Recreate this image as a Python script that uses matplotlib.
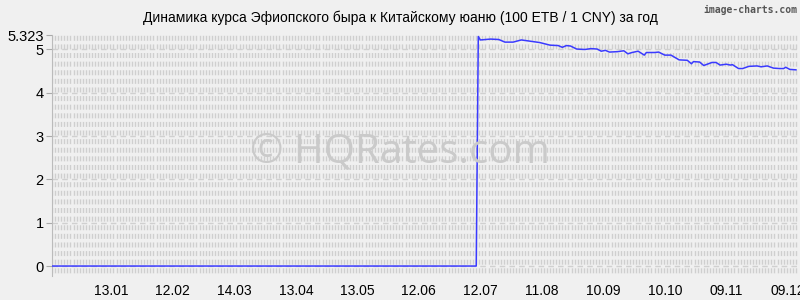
import numpy as np
import pandas as pd
import matplotlib
matplotlib.use("Agg")
import matplotlib.pyplot as plt
import matplotlib.dates as mdates

# 100 ETB in CNY
dates = ["2024-12-15", "2025-07-10", "2025-07-11", "2025-07-12", "2025-07-17",
         "2025-07-21", "2025-07-24", "2025-07-28", "2025-08-01", "2025-08-04",
         "2025-08-10", "2025-08-15", "2025-08-19", "2025-08-21", "2025-08-23",
         "2025-08-25", "2025-08-28", "2025-09-01", "2025-09-04", "2025-09-07",
         "2025-09-09", "2025-09-11", "2025-09-13", "2025-09-17", "2025-09-20",
         "2025-09-22", "2025-09-24", "2025-09-27", "2025-09-30", "2025-10-01",
         "2025-10-05", "2025-10-07", "2025-10-10", "2025-10-13", "2025-10-17",
         "2025-10-21", "2025-10-23", "2025-10-24", "2025-10-27", "2025-10-29",
         "2025-11-02", "2025-11-04", "2025-11-06", "2025-11-09", "2025-11-11",
         "2025-11-12", "2025-11-15", "2025-11-17", "2025-11-20", "2025-11-24",
         "2025-11-26", "2025-11-29", "2025-12-02", "2025-12-05", "2025-12-07",
         "2025-12-08", "2025-12-10", "2025-12-13"]
rates = [0.0, 0.0, 5.30, 5.22, 5.24,
         5.23, 5.17, 5.17, 5.22, 5.20,
         5.16, 5.10, 5.09, 5.05, 5.09,
         5.08, 5.01, 5.00, 5.02, 5.01,
         4.96, 4.98, 4.94, 4.95, 4.97,
         4.90, 4.93, 4.96, 4.87, 4.93,
         4.93, 4.94, 4.87, 4.87, 4.76,
         4.75, 4.67, 4.72, 4.71, 4.63,
         4.70, 4.70, 4.64, 4.66, 4.64,
         4.65, 4.56, 4.56, 4.61, 4.62,
         4.60, 4.62, 4.57, 4.56, 4.56,
         4.59, 4.54, 4.53]

tick_dates = ["2025-01-13", "2025-02-12", "2025-03-14", "2025-04-13", "2025-05-13",
              "2025-06-12", "2025-07-12", "2025-08-11", "2025-09-10", "2025-10-10",
              "2025-11-09", "2025-12-09"]
y_ticks = [0, 1, 2, 3, 4, 5, 5.323]
y_labels = ["0", "1", "2", "3", "4", "5", "5.323"]

x = pd.to_datetime(dates)
xt = pd.to_datetime(tick_dates)
x_min, x_max = pd.Timestamp("2024-12-15"), pd.Timestamp("2025-12-14")
y_min, y_max = -0.23, 5.323

plt.rcParams['font.family'] = ['Liberation Sans', 'DejaVu Sans']
bg = '#f0f0f0'
fig = plt.figure(figsize=(8, 3), dpi=100, facecolor=bg)
ax = fig.add_axes([0.065, 0.08, 0.9325, 0.8017], facecolor=bg)

# dense striped grid, like the image-charts background
grid_x = pd.date_range(x_min, x_max, freq='36h')
ax.vlines(grid_x, y_min, y_max, colors='#cfcfcf', linewidth=1.0,
          linestyles=(3.9, (3.6, 2.6)), zorder=0)
for yv in [0, 1, 2, 3, 4, 5]:
    ax.axhline(yv, color='#d0d0d0', linewidth=1.0, linestyle=(0, (4, 3)), zorder=1)

ax.plot(x, rates, color='#3a3aff', linewidth=1.1, zorder=3)

fig.text(0.5, 0.493, "© HQRates.com", family='Open Sans',
         fontsize=29, color='#cacaca', ha='center', va='center', zorder=2)

ax.set_xlim(x_min, x_max)
ax.set_ylim(y_min, y_max)
ax.set_xticks(xt)
ax.set_xticklabels([d.strftime("%d.%m") for d in xt])
ax.set_yticks(y_ticks)
ax.set_yticklabels(y_labels)
ax.tick_params(axis='x', length=0, labelsize=10, pad=6)
ax.tick_params(axis='y', length=4, color='#aaaaaa', labelsize=10.5, pad=2)

for s in ['top', 'right', 'bottom']:
    ax.spines[s].set_visible(False)
ax.spines['left'].set_color('#bbbbbb')

fig.text(0.5, 0.94, "Динамика курса Эфиопского быра к Китайскому юаню (100 ETB / 1 CNY) за год",
         ha='center', va='center', fontsize=10)
fig.text(0.997, 0.985, "image-charts.com", ha='right', va='top', family='DejaVu Sans Mono',
         fontsize=7, fontweight='bold', color='#555555')

fig.savefig("out.png", dpi=100, facecolor=bg)
